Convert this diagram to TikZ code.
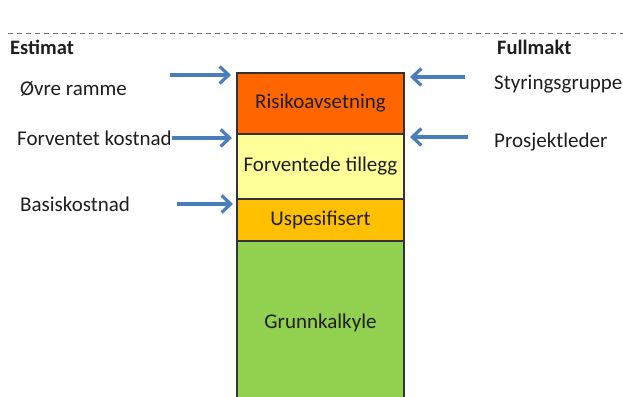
\documentclass[tikz,border=0pt]{standalone}
\usepackage{fontspec}
\setmainfont{Carlito}
\usetikzlibrary{arrows.meta}
\definecolor{arrowblue}{RGB}{74,126,187}
\definecolor{risk}{RGB}{255,102,0}
\definecolor{expect}{RGB}{255,255,153}
\definecolor{unspec}{RGB}{255,192,0}
\definecolor{base}{RGB}{146,208,80}
\definecolor{txt}{RGB}{30,30,30}
\tikzset{
  lbl/.style={font=\fontsize{21}{24}\selectfont, text=txt, inner sep=0pt, anchor=west},
  hdr/.style={font=\fontsize{20.5}{24}\selectfont\bfseries, text=txt, inner sep=0pt, anchor=west},
  layer/.style={draw=black!80, line width=1.2pt, minimum width=167pt, inner sep=0pt, text=txt, font=\fontsize{21}{24}\selectfont},
  barrow/.style={draw=arrowblue, line width=3.4pt, -{Straight Barb[length=9pt,width=17pt,line width=3.2pt]}}
}
\begin{document}
\begin{tikzpicture}[x=1pt,y=-1pt]
\useasboundingbox (0,0) rectangle (623,396);
\clip (0,0) rectangle (623,396);
\draw[black!55, line width=0.9pt, dash pattern=on 5pt off 4pt] (8,33) -- (623,33);
\node[hdr] (est) at (10,47) {Estimat};
\node[hdr] (full) at (497,47) {Fullmakt};
% layers
\node[layer, fill=risk, minimum height=61pt] (risk) at (320.5,103.5) {Risikoavsetning};
\node[layer, fill=expect, minimum height=65pt] (exp) at (320.5,166.5) {Forventede tillegg};
\node[layer, fill=unspec, minimum height=42pt] (uns) at (320.5,220) {Uspesifisert};
\node[layer, fill=base, minimum height=164pt] (base) at (320.5,323) {Grunnkalkyle};
% left labels
\node[lbl] (ovre) at (20,89) {Øvre ramme};
\node[lbl] (fk) at (17,138) {Forventet kostnad};
\node[lbl] (bk) at (20,204) {Basiskostnad};
% right labels
\node[lbl] (sty) at (494,84) {Styringsgruppe};
\node[lbl] (pro) at (494,142) {Prosjektleder};
% arrow coordinates
\coordinate (a1s) at (170,75);
\coordinate (a1e) at (231,75);
\coordinate (a2e) at (232,138);
\coordinate (a3s) at (177,204);
\coordinate (a3e) at (233,204);
\coordinate (b1s) at (465,77);
\coordinate (b1e) at (410,77);
\coordinate (b2s) at (468,137);
\coordinate (b2e) at (410,137);
\draw[barrow] (a1s) -- (a1e);
\draw[barrow] (fk.east) -- (a2e);
\draw[barrow] (a3s) -- (a3e);
\draw[barrow] (b1s) -- (b1e);
\draw[barrow] (b2s) -- (b2e);
\end{tikzpicture}
\end{document}
